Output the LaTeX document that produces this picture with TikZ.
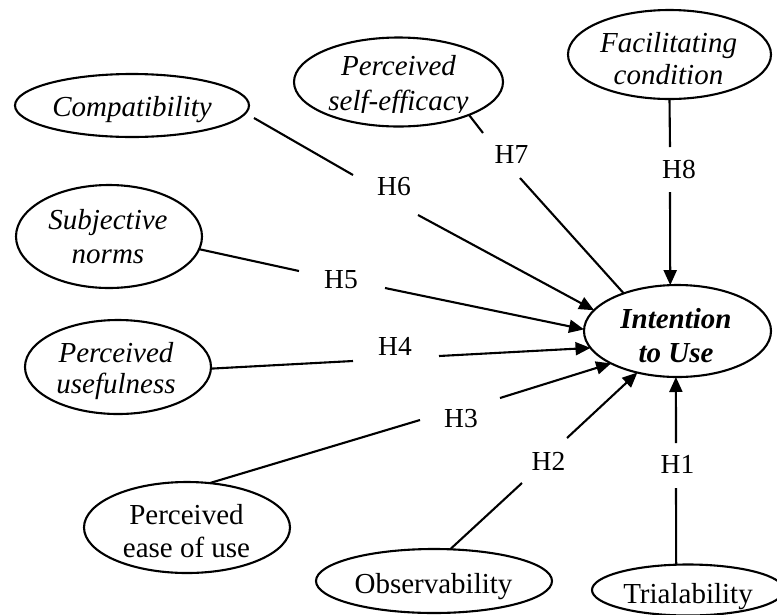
\documentclass[tikz,border=0pt]{standalone}
\usepackage{fontspec}
\setmainfont{Liberation Serif}
\usetikzlibrary{shapes.geometric,arrows.meta}
\tikzset{
  ell/.style={draw, ellipse, line width=2.1pt, inner sep=0pt, outer sep=0pt},
  txt/.style={inner sep=0pt, anchor=base, font=\fontsize{29}{#1}\selectfont\itshape},
  txt/.default=33,
  btxt/.style={inner sep=0pt, anchor=base, font=\fontsize{29}{#1}\selectfont\bfseries\itshape},
  btxt/.default=34,
  utxt/.style={inner sep=0pt, anchor=base, font=\fontsize{29}{#1}\selectfont},
  utxt/.default=33,
  hyp/.style={inner sep=0pt, font=\fontsize{27.5}{33}\selectfont},
  conn/.style={line width=2.1pt},
  arr/.style={line width=2.1pt, -{Triangle[length=15pt,width=13pt]}}
}
\newcommand{\twolines}[2]{\begin{tabular}[t]{@{}c@{}}#1\\#2\end{tabular}}
\begin{document}
\begin{tikzpicture}[x=1pt,y=-1pt]
\clip (0,0) rectangle (777,614);
\useasboundingbox (0,0) rectangle (777,614);
% ellipses
\node[ell, minimum width=234pt, minimum height=63pt] (cp) at (132,105.5) {};
\node[ell, minimum width=209pt, minimum height=89pt] (se) at (398.5,82) {};
\node[ell, minimum width=203pt, minimum height=89pt] (fc) at (669.5,54.5) {};
\node[ell, minimum width=186pt, minimum height=103pt] (sn) at (109,236.5) {};
\node[ell, minimum width=186pt, minimum height=94pt] (pu) at (118,367) {};
\node[ell, minimum width=187pt, minimum height=92pt] (iu) at (677.5,331) {};
\node[ell, minimum width=206pt, minimum height=91pt] (pe) at (187,527.5) {};
\node[ell, minimum width=236pt, minimum height=64pt] (ob) at (434,581) {};
\node[ell, minimum width=192pt, minimum height=51pt] (tr) at (688,590) {};
% texts
\node[txt] (cpt) at (132,116.7) {Compatibility};
\begin{scope}
\clip (290,30) rectangle (510,112);
\node[txt=35] (set) at (398.5,75) {\twolines{Perceived}{self-efficacy}};
\end{scope}
\node[txt=32] (fct) at (668.5,52.7) {\twolines{Facilitating}{condition}};
\node[txt=34] (snt) at (108,229) {\twolines{Subjective}{norms}};
\node[txt=31] (put) at (116,362) {\twolines{Perceived}{usefulness}};
\node[btxt=34] (iut) at (676,328) {\twolines{Intention}{to Use}};
\node[utxt=33] (pet) at (186.5,524) {\twolines{Perceived}{ease of use}};
\node[utxt] (obt) at (433.5,593.5) {Observability};
\node[utxt] (trt) at (688,603) {Trialability};
% hypothesis labels
\node[hyp] (h1) at (677.5,464) {H1};
\node[hyp] (h2) at (548.5,461) {H2};
\node[hyp] (h3) at (461,419) {H3};
\node[hyp] (h4) at (395,346) {H4};
\node[hyp] (h5) at (341,280) {H5};
\node[hyp] (h6) at (394,187) {H6};
\node[hyp] (h7) at (511.5,154) {H7};
\node[hyp] (h8) at (679,169) {H8};
% connector break points
\coordinate (c6s) at (254,118);
\coordinate (c6a) at (353,175);
\coordinate (c6b) at (418,215);
\coordinate (c7a) at (483,133);
\coordinate (c7b) at (520,178);
\coordinate (c8a) at (670,147);
\coordinate (c8b) at (670,192);
\coordinate (c5a) at (299,271);
\coordinate (c5b) at (385,288);
\coordinate (c4a) at (353,361);
\coordinate (c4b) at (439,356);
\coordinate (c3a) at (420,420);
\coordinate (c3b) at (500,398);
\coordinate (c2a) at (522,483);
\coordinate (c2b) at (567,438);
\coordinate (c1a) at (676,488);
\coordinate (c1b) at (676,443);
% connectors
\draw[conn] (c6s) -- (c6a);
\draw[arr] (c6b) -- (iu.166.5);
\draw[conn] (se.-25.7) -- (c7a);
\draw[conn] (c7b) -- (iu.145);
\draw[conn] (fc.south) -- (c8a);
\draw[arr] (c8b) -- (iu.99);
\draw[conn] (sn.-8) -- (c5a);
\draw[arr] (c5b) -- (iu.179.4);
\draw[conn] (pu.-1) -- (c4a);
\draw[arr] (c4b) -- (iu.191.6);
\draw[conn] (pe.63.2) -- (c3a);
\draw[arr] (c3b) -- (iu.206.1);
\draw[conn] (ob.63.4) -- (c2a);
\draw[arr] (c2b) -- (iu.226);
\draw[conn] (tr.115.6) -- (c1a);
\draw[arr] (c1b) -- (iu.268.8);
\end{tikzpicture}
\end{document}
